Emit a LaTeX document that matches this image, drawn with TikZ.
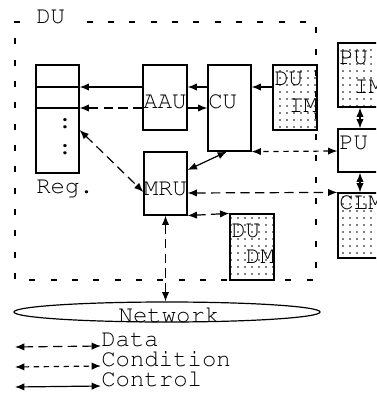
\documentclass[tikz,border=0pt]{standalone}
\usepackage[T1]{fontenc}
\usepackage{courier}
\usetikzlibrary{arrows.meta,patterns,shapes.geometric}

\pgfdeclarepatternformonly{sparse dots}{\pgfqpoint{-1pt}{-1pt}}{\pgfqpoint{1pt}{1pt}}{\pgfqpoint{5.25pt}{5.25pt}}%
  {\pgfpathcircle{\pgfpointorigin}{0.65pt}\pgfusepath{fill}}

\tikzset{
  unit/.style={draw, line width=0.9pt, inner sep=0pt},
  memory/.style={unit, pattern=sparse dots},
  txt/.style={inner sep=0pt, font=\ttfamily\fontsize{18}{20}\selectfont},
  link/.style={line width=0.9pt, {Latex[length=7pt,width=5.5pt]}-{Latex[length=7pt,width=5.5pt]}},
  tolink/.style={line width=0.9pt, -{Latex[length=7pt,width=5.5pt]}},
  datastyle/.style={dash pattern=on 7pt off 4pt},
  condstyle/.style={dash pattern=on 4pt off 3.5pt},
  border/.style={line width=0.9pt, dash pattern=on 4.5pt off 11.5pt}
}

\begin{document}
\begin{tikzpicture}[x=0.75pt, y=-0.75pt]
  \useasboundingbox (0,0) rectangle (376,393);
  \clip (0,0) rectangle (376,393);

  % 1. DU border
  \draw[border] (20,22) -- (15,22) -- (15,280) -- (316,280) -- (316,22) -- (72,22);
  \node[txt, anchor=base west] (dulbl) at (36,23) {DU};

  % 2. units
  \node[unit, minimum width=32.25pt, minimum height=81pt] (reg) at (57.5,119) {};
  \draw[line width=0.9pt] (reg.west |- 0,87) -- (reg.east |- 0,87);
  \draw[line width=0.9pt] (reg.west |- 0,108) -- (reg.east |- 0,108);
  \node[txt] (dots1) at (65,124) {:};
  \node[txt] (dots2) at (65,150) {:};
  \node[txt, anchor=base west] (reglbl) at (36,193) {Reg.};

  \node[unit, minimum width=33pt, minimum height=48.75pt] (aau) at (165,97.5) {};
  \node[txt, anchor=base] (aaulbl) at (165,108) {AAU};
  \node[unit, minimum width=32.25pt, minimum height=64.5pt] (cu) at (229.5,108) {};
  \node[txt, anchor=base west] (culbl) at (208,108) {CU};
  \node[unit, minimum width=32.25pt, minimum height=47.25pt] (mru) at (165.5,183.5) {};
  \node[txt, anchor=base] (mrulbl) at (165.5,195) {MRU};

  % 3. memories
  \node[memory, minimum width=33pt, minimum height=48.75pt] (duim) at (295,97.5) {};
  \node[txt, anchor=base west] (duimA) at (274,85) {DU};
  \node[txt, anchor=base east] (duimB) at (318,112) {IM};
  \node[memory, minimum width=33pt, minimum height=49.5pt] (dudm) at (252,247) {};
  \node[txt, anchor=base west] (dudmA) at (231,237) {DU};
  \node[txt, anchor=base east] (dudmB) at (275,263) {DM};
  \node[memory, minimum width=46.5pt, minimum height=48pt] (puim) at (369,75) {};
  \node[txt, anchor=base west] (puimA) at (339,64) {PU};
  \node[txt, anchor=base west] (puimB) at (354,93) {IM};
  \node[unit, fill=white, minimum width=46.5pt, minimum height=32.25pt] (pu) at (369,150.5) {};
  \node[txt, anchor=base west] (pulbl) at (339,149) {PU};
  \node[memory, minimum width=46.5pt, minimum height=48.75pt] (clm) at (369,225.5) {};
  \node[txt, anchor=base west] (clmlbl) at (339,209) {CLM};

  % 4. network
  \node[ellipse, draw, line width=0.9pt, inner sep=0pt, minimum width=229.5pt, minimum height=15pt] (net) at (167,312) {};
  \node[txt, anchor=base] (netlbl) at (169,322) {Network};

  % 5. connectors
  \draw[tolink] (aau.west |- 0,87) -- (reg.east |- 0,87);
  \draw[tolink, datastyle] (aau.west |- 0,108) -- (reg.east |- 0,108);
  \draw[tolink] (cu.west |- 0,87) -- (aau.east |- 0,87);
  \draw[tolink] (aau.east |- 0,108) -- (cu.west |- 0,108);
  \draw[tolink] (duim.west |- 0,87) -- (cu.east |- 0,87);
  \draw[link, condstyle] (pu.west |- 0,151) -- (cu.south east);
  \draw[link] (mru.east |- 0,170) -- (cu.south -| 227,0);
  \draw[link, datastyle] (reg.east |- 0,130) -- (mru.west |- 0,192);
  \draw[link, datastyle] (mru.east |- 0,193) -- (clm.north west);
  \draw[link, datastyle] (mru.south east) -- (dudm.north west);
  \draw[link, datastyle] (mru.south) -- (mru.south |- net.north);
  \draw[link] (puim.south -| 360,0) -- (pu.north -| 360,0);
  \draw[link] (pu.south -| 360,0) -- (clm.north -| 360,0);

  % 6. legend
  \node[txt, anchor=base west] (ldata) at (101,346) {Data};
  \node[txt, anchor=base west] (lcond) at (101,366) {Condition};
  \node[txt, anchor=base west] (lctrl) at (101,386) {Control};
  \coordinate (ld) at (15,347);
  \coordinate (lc) at (15,367);
  \coordinate (lt) at (15,387);
  \draw[link, datastyle] (ld) -- (ldata.base west);
  \draw[link, condstyle] (lc) -- (lcond.base west);
  \draw[link] (lt) -- (lctrl.base west);
\end{tikzpicture}
\end{document}
